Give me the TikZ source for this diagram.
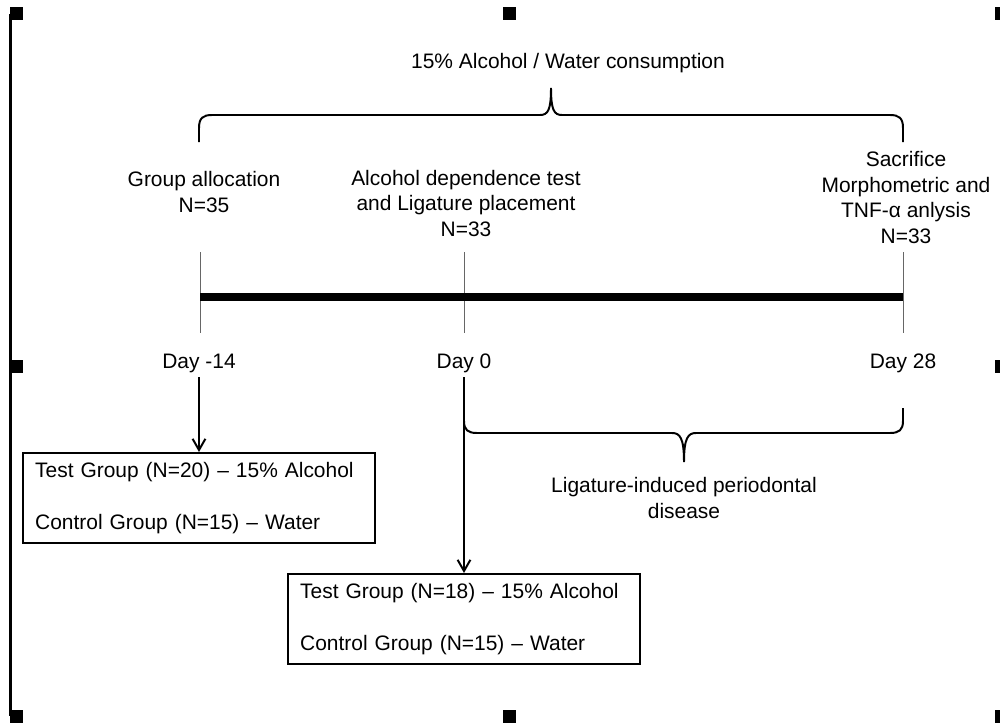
\documentclass[tikz,border=0pt]{standalone}
\usepackage{fontspec}
\setmainfont{Liberation Sans}
\usetikzlibrary{arrows.meta}

\begin{document}
\begin{tikzpicture}[x=0.025cm, y=-0.025cm,
    every node/.style={font=\fontsize{14.9}{18.1}\selectfont},
    daytext/.style={align=center, anchor=base},
    groupbox/.style={draw, line width=1.6pt, anchor=north west, align=left,
      text width=8.2cm, inner xsep=0.3cm, minimum height=2.25cm},
    tickline/.style={draw=gray!80!black, line width=0.6pt},
    braceline/.style={line width=1.4pt},
    arr/.style={-{Straight Barb[length=2.8mm,width=3.2mm]}, line width=1.4pt}]
    \useasboundingbox (0,0) rectangle (1000,723);

    % Frame handles
    \draw[line width=2pt] (10.5,14) -- (10.5,716);
    \fill (10,7) rectangle (23,20);
    \fill (503,7) rectangle (516,20);
    \fill (995,7) rectangle (1000,20);
    \fill (10,360) rectangle (23,373);
    \fill (995,360) rectangle (1000,373);
    \fill (10,710) rectangle (23,723);
    \fill (503,710) rectangle (516,723);
    \fill (995,710) rectangle (1000,723);

    % Timeline
    \coordinate (dayA) at (200,297);
    \coordinate (dayB) at (464,297);
    \coordinate (dayC) at (903,297);
    \draw[tickline] (200,252) -- (200,333);
    \draw[tickline] (464,252) -- (464,333);
    \draw[tickline] (903,252) -- (903,333);
    \draw[line width=6.2pt] (dayA) -- (dayC);

    % Events (base = last line)
    \node[daytext] (alloc) at (204,212) {Group allocation\\N=35};
    \node[daytext] (ligat) at (466,236) {Alcohol dependence test\\and Ligature placement\\N=33};
    \node[daytext] (sacri) at (906,243) {Sacrifice\\Morphometric and\\TNF-α anlysis\\N=33};

    % Days
    \node[daytext] (dm14) at (199,368) {Day -14};
    \node[daytext] (d0) at (464,368) {Day 0};
    \node[daytext] (d28) at (903,368) {Day 28};

    % Top brace
    \node[daytext] (drink) at (568,68) {15\% Alcohol / Water consumption};
    \draw[braceline] (199,142) -- (199,128) .. controls (199,118) and (203,115) .. (212,115)
      -- (540,115) .. controls (548,115) and (551,110) .. (551,88)
      .. controls (551,110) and (554,115) .. (562,115) -- (890,115)
      .. controls (899,115) and (903,118) .. (903,128) -- (903,142);

    % Bottom brace
    \draw[braceline] (464,408) -- (464,421) .. controls (464,430) and (468,433) .. (477,433)
      -- (672,433) .. controls (680,433) and (684,438) .. (684,462)
      .. controls (684,438) and (688,433) .. (696,433) -- (890,433)
      .. controls (899,433) and (903,430) .. (903,421) -- (903,408);
    \node[daytext] (perio) at (684,518) {Ligature-induced periodontal\\disease};

    % Groups
    \node[groupbox] (box1) at (22,452) {Test Group (N=20) – 15\% Alcohol\\[19pt]Control Group (N=15) – Water};
    \node[groupbox] (box2) at (287,573) {Test Group (N=18) – 15\% Alcohol\\[19pt]Control Group (N=15) – Water};

    % Arrows
    \draw[arr] (dm14.south) -- (dm14.south |- box1.north);
    \draw[arr] (d0.south) -- (d0.south |- box2.north);
\end{tikzpicture}
\end{document}
